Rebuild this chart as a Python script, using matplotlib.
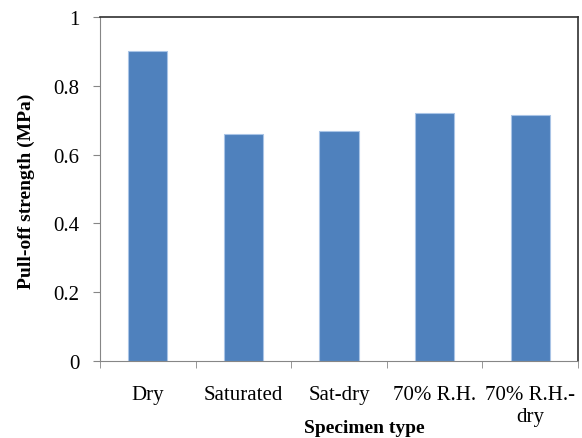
import matplotlib.pyplot as plt
import numpy as np

categories = ["Dry", "Saturated", "Sat-dry", "70% R.H.", "70% R.H.-\ndry"]
strength = [0.90, 0.66, 0.67, 0.72, 0.715]

plt.rcParams['font.family'] = ['Liberation Serif', 'DejaVu Serif']

fig = plt.figure(figsize=(5.82, 4.39), dpi=100)
ax = fig.add_axes([100 / 582, 1 - 362 / 439, 478 / 582, 344 / 439])

x = np.arange(len(categories))
ax.bar(x, strength, width=0.41, color='#4f81bd', edgecolor='#a9c4e6', linewidth=0.8)

ax.set_xlim(-0.5, len(categories) - 0.5)
ax.set_ylim(0, 1)
ax.set_yticks([0, 0.2, 0.4, 0.6, 0.8, 1.0])
ax.set_yticklabels(["0", "0.2", "0.4", "0.6", "0.8", "1"], fontsize=15)

# category labels centred, tick marks at category boundaries
ax.set_xticks(x)
ax.set_xticklabels(categories, fontsize=15, linespacing=1.25)
ax.tick_params(axis='x', length=0, pad=17)
ax.set_xticks(np.arange(-0.5, len(categories)), minor=True)
ax.tick_params(axis='x', which='minor', length=5, color='#868686', direction='out')
ax.tick_params(axis='y', length=5, color='#868686', direction='out', pad=10)

for side in ['left', 'bottom']:
    ax.spines[side].set_color('#868686')
for side in ['top', 'right']:
    ax.spines[side].set_color('#303030')
    ax.spines[side].set_linewidth(1.2)

ax.set_xlabel("Specimen type", fontsize=14, fontweight='bold')
ax.xaxis.set_label_coords(0.553, -0.168)
ax.set_ylabel("Pull-off strength (MPa)", fontsize=14, fontweight='bold')
ax.yaxis.set_label_coords(-0.135, 0.496)

fig.savefig("out.png", dpi=100)
